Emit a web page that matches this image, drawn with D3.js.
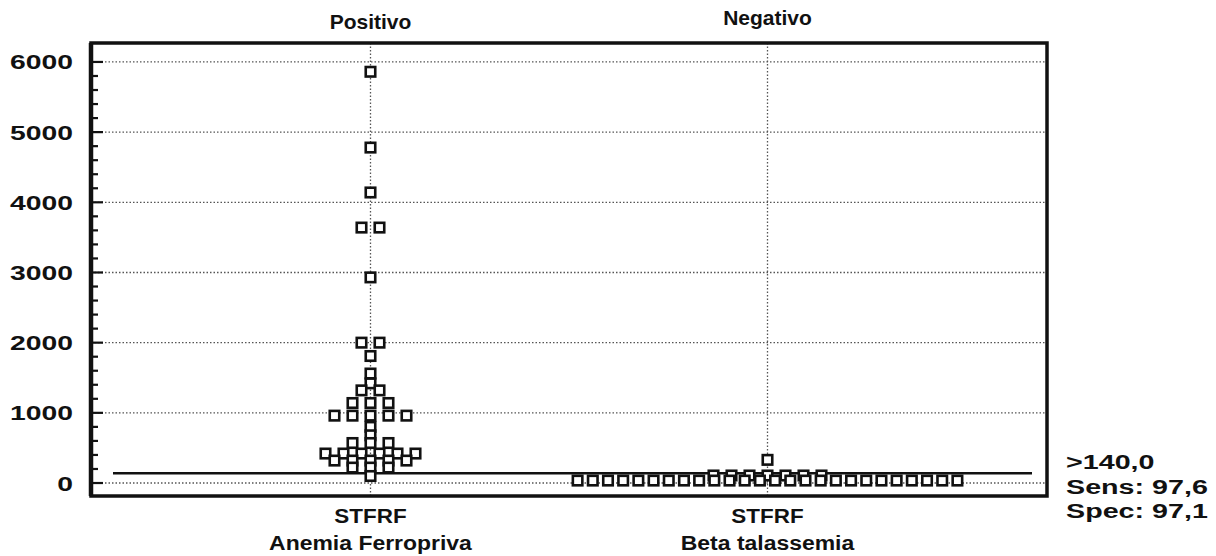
<!DOCTYPE html>
<html>
<head>
<meta charset="utf-8">
<script src="https://cdn.jsdelivr.net/npm/d3@7"></script>
<style>
  html, body { margin: 0; padding: 0; background: #fff; }
  svg { display: block; }
  text { font-family: "Liberation Sans", Arial, sans-serif; font-weight: bold; fill: #111; }
</style>
</head>
<body>
<svg id="chart" width="1216" height="556"></svg>
<script>
// Groups shown on the dot plot
const groups = ["Positivo", "Negativo"];
const groupTests = ["STFRF", "STFRF"];
const groupNames = ["Anemia Ferropriva", "Beta talassemia"];

// STFRF values per group (repeated values sit side by side on one row)
const positivoValues = [5860, 4780, 4140, 3640, 3640, 2930, 2000, 2000, 1810, 1560,
  1420, 1320, 1320, 1140, 1140, 1140, 960, 960, 960, 960, 960, 800, 680,
  570, 570, 570, 420, 420, 420, 420, 420, 420, 320, 320, 320, 320, 320,
  220, 220, 220, 100];
const negativoValues = [35, 35, 35, 35, 35, 35, 35, 35, 35, 35, 35, 35, 35,
  35, 35, 35, 35, 35, 35, 35, 35, 35, 35, 35, 35, 35,
  107, 107, 107, 107, 107, 107, 107, 330];

// Axis ticks and cut-off statistics
const yTicks = [0, 1000, 2000, 3000, 4000, 5000, 6000];
const yMinorTicks = d3.range(0, 6001, 200);
const cutoff = 140;
const statLabels = [">140,0", "Sens: 97,6", "Spec: 97,1"];

const svg = d3.select("#chart");
const frame = { left: 91, right: 1047, top: 43, bottom: 496 };

const y = d3.scaleLinear().domain([-185, 6270]).range([frame.bottom, frame.top]);
const x = d3.scalePoint().domain(groups).range([frame.left, frame.right]).padding(0.704);

// horizontally stretched text helper
function label(g, tx, ty, str, anchor, size, sx) {
  return g.append("text")
    .attr("transform", `translate(${tx},${ty}) scale(${sx},1)`)
    .attr("text-anchor", anchor)
    .style("font-size", size + "px")
    .text(str);
}

// dotted grid: horizontal at major ticks, vertical through each group
const grid = svg.append("g");
grid.selectAll("line.h").data(yTicks).join("line")
  .attr("x1", frame.left).attr("x2", frame.right)
  .attr("y1", d => y(d)).attr("y2", d => y(d))
  .attr("stroke", "#555").attr("stroke-width", 1.3).attr("stroke-dasharray", "1.5,2");
grid.selectAll("line.v").data(groups).join("line")
  .attr("x1", d => x(d)).attr("x2", d => x(d))
  .attr("y1", frame.top).attr("y2", frame.bottom)
  .attr("stroke", "#555").attr("stroke-width", 1.3).attr("stroke-dasharray", "1.5,2");

// cut-off line
svg.append("line")
  .attr("x1", frame.left + 22).attr("x2", frame.right - 15)
  .attr("y1", y(cutoff)).attr("y2", y(cutoff))
  .attr("stroke", "#111").attr("stroke-width", 2.4);

// place points: identical values spread horizontally around the group centre
function layout(values, group) {
  const cx = x(group);
  const out = [];
  d3.groups(values, v => v).forEach(([v, arr]) => {
    const n = arr.length;
    const step = Math.min(18, 395 / n);
    arr.forEach((_, i) => out.push({ v, px: cx + (i - (n - 1) / 2) * step }));
  });
  return out;
}
const points = layout(positivoValues, groups[0]).concat(layout(negativoValues, groups[1]))
  .sort((a, b) => b.v - a.v);

const s = 9.5;
svg.append("g").selectAll("rect").data(points).join("rect")
  .attr("x", d => d.px - s / 2).attr("y", d => y(d.v) - s / 2)
  .attr("width", s).attr("height", s)
  .attr("fill", "#fff").attr("stroke", "#111").attr("stroke-width", 2.6);

// frame
svg.append("rect")
  .attr("x", frame.left).attr("y", frame.top)
  .attr("width", frame.right - frame.left).attr("height", frame.bottom - frame.top)
  .attr("fill", "none").attr("stroke", "#111").attr("stroke-width", 3.5);
svg.append("line")
  .attr("x1", frame.left).attr("x2", frame.left)
  .attr("y1", frame.top).attr("y2", frame.bottom)
  .attr("stroke", "#111").attr("stroke-width", 4.5);

// y axis ticks pointing inward
svg.append("g").selectAll("line").data(yMinorTicks).join("line")
  .attr("x1", frame.left).attr("x2", d => frame.left + (d % 1000 === 0 ? 12 : 7))
  .attr("y1", d => y(d)).attr("y2", d => y(d))
  .attr("stroke", "#111").attr("stroke-width", 2.2);

const labels = svg.append("g");
yTicks.forEach(t => label(labels, 73, y(t) + 7.5, String(t), "end", 20.5, 1.38));

// group headers and category labels
groups.forEach((g, i) => {
  label(labels, x(g), i === 0 ? 29 : 25, g, "middle", 21, 1.0);
  label(labels, x(g), 523, groupTests[i], "middle", 21, 1.07);
  label(labels, x(g), 550, groupNames[i], "middle", 20.5, 1.12);
});

// cut-off statistics
statLabels.forEach((t, i) => label(labels, 1066, 469 + i * 24.5, t, "start", 20.5, 1.4));
</script>
</body>
</html>
